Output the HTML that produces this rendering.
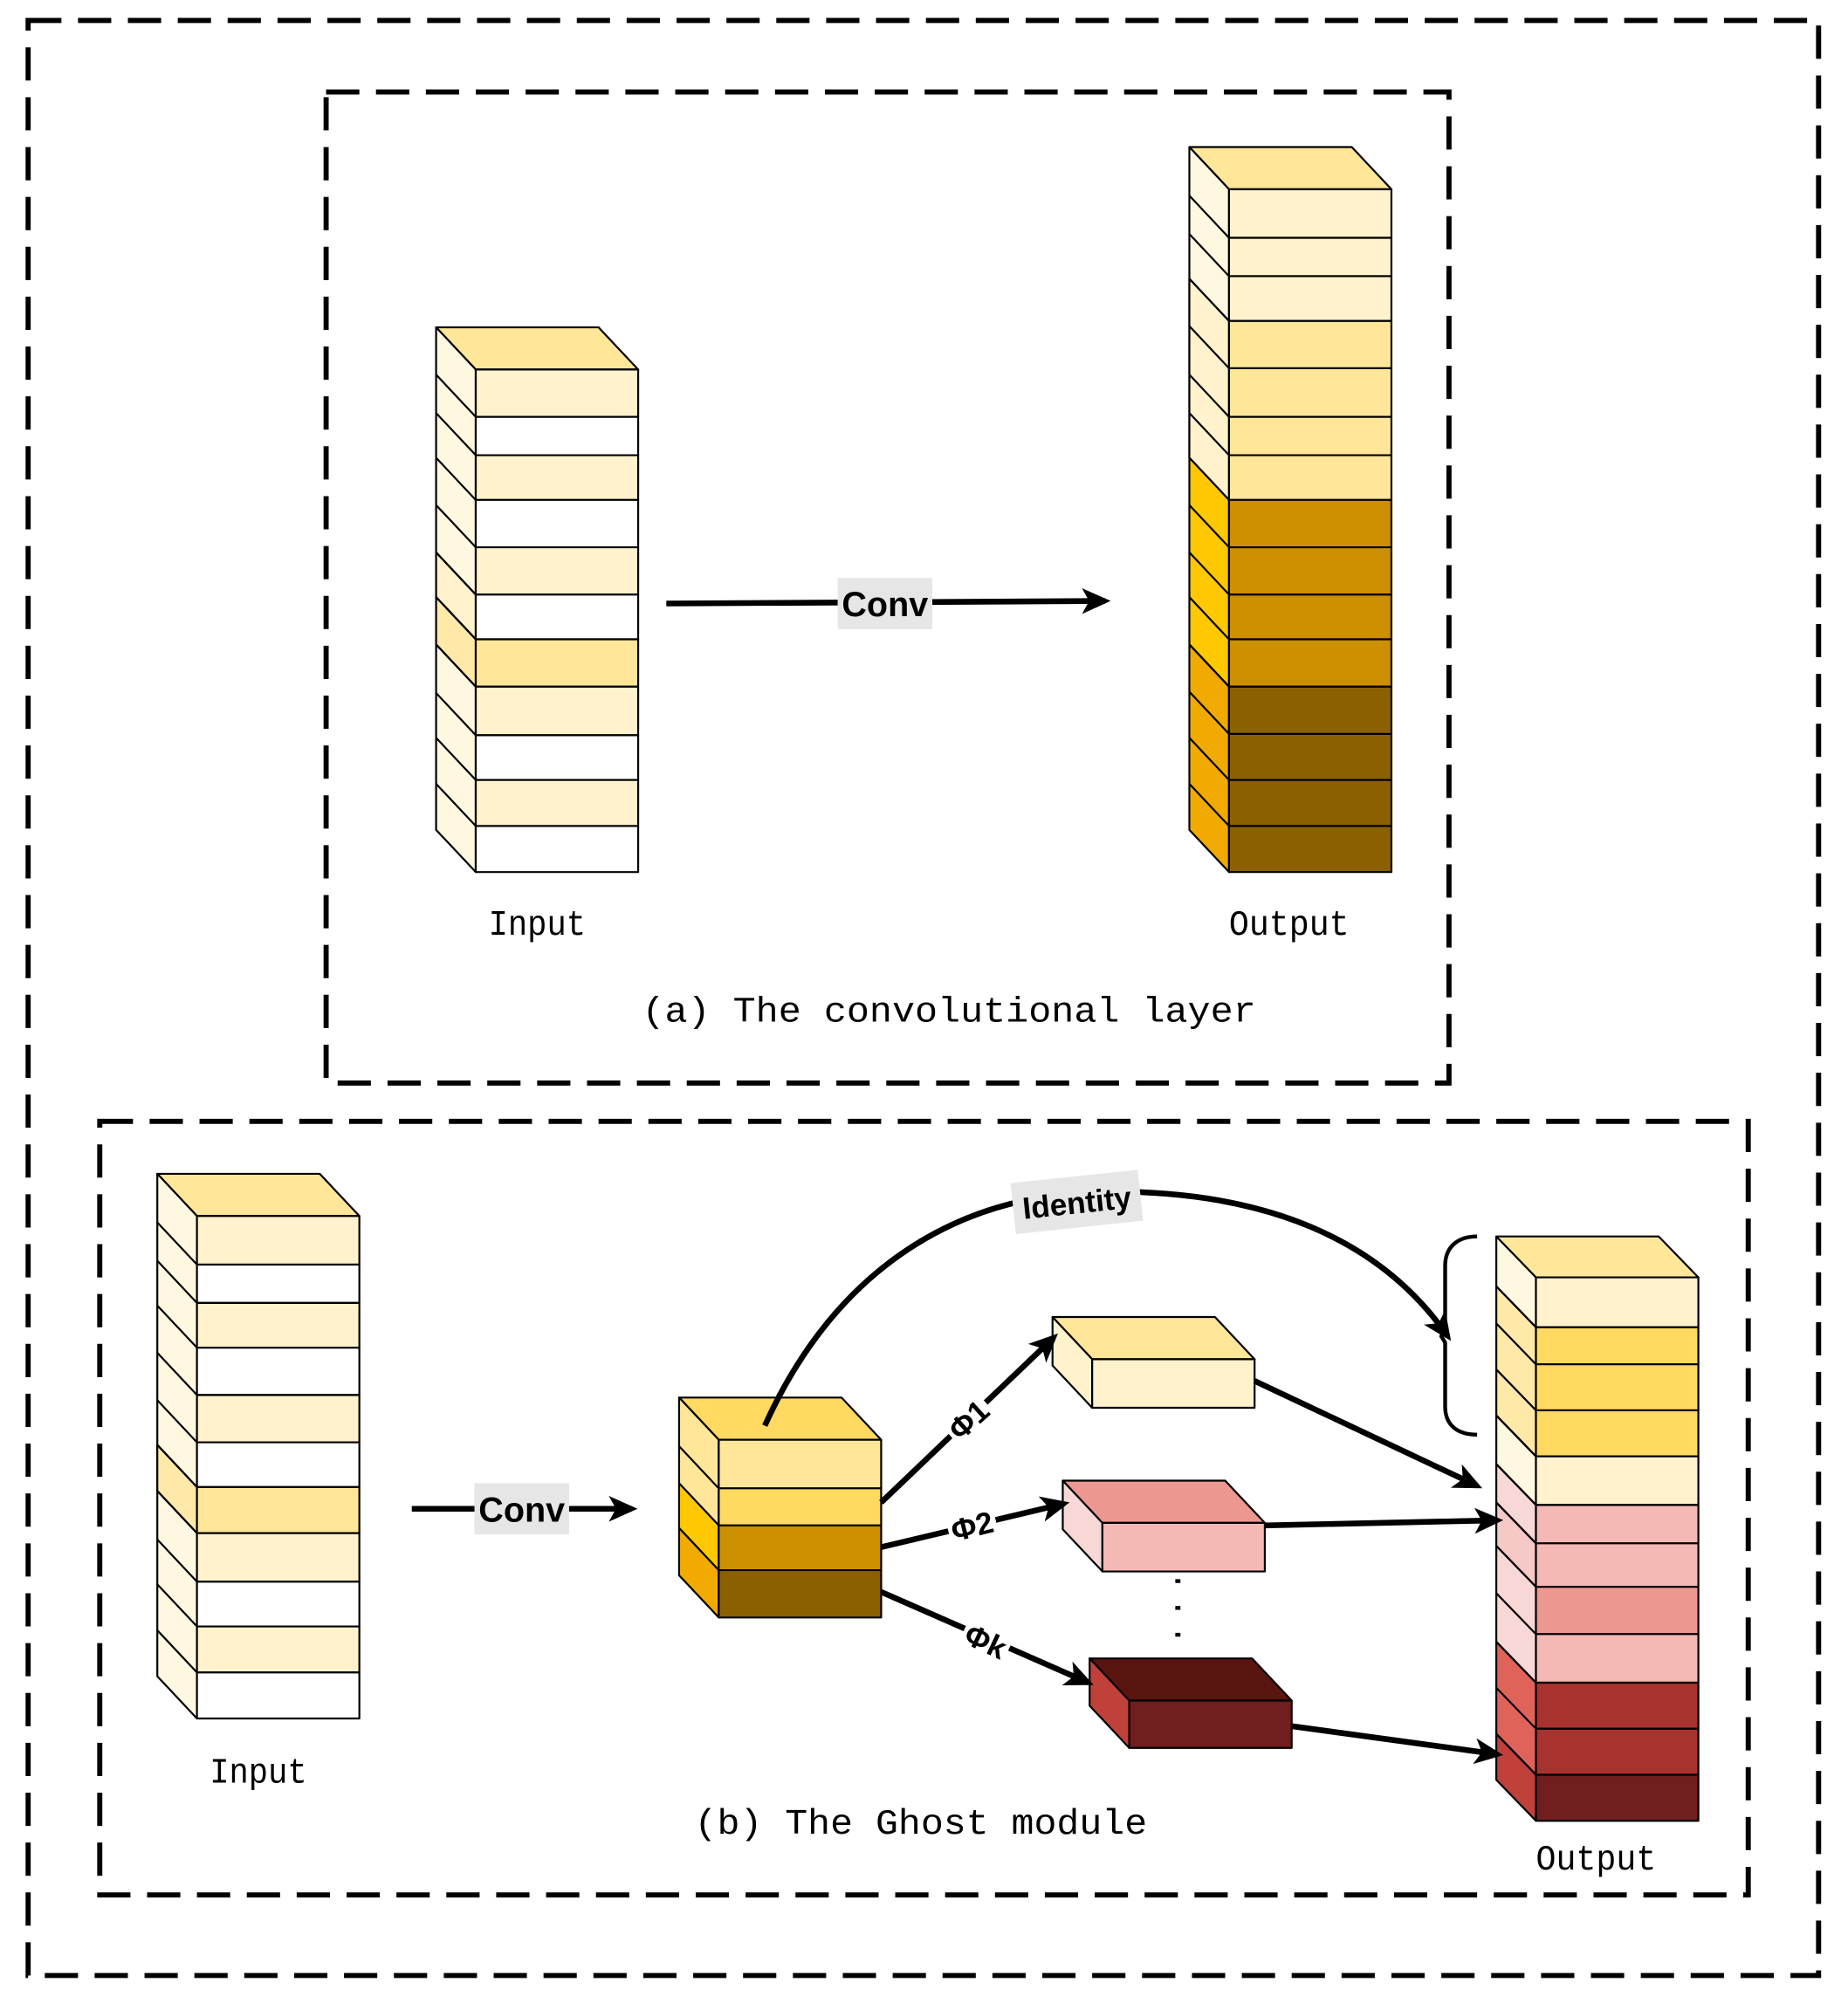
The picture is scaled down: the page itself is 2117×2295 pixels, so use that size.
<!DOCTYPE html>
<html><head><meta charset="utf-8"><style>html,body{margin:0;padding:0;background:#fff}svg{display:block}</style></head>
<body>
<svg width="2117" height="2295" viewBox="0 0 1445 1566.5" xmlns="http://www.w3.org/2000/svg" font-family="Liberation Mono, monospace">
<defs>
<marker id="ah" viewBox="0 0 10 10" refX="8" refY="5" markerWidth="5" markerHeight="5" orient="auto" markerUnits="strokeWidth"><path d="M0,0.5 L10,5 L0,9.5 L2.5,5 z" fill="#000"/></marker>
</defs>
<g fill="none" stroke="#000" stroke-width="4" stroke-dasharray="26 13">
<rect x="22" y="16" width="1400" height="1529"/>
<rect x="255" y="72" width="878" height="775"/>
<rect x="78" y="877" width="1289" height="605"/>
</g>

<g stroke="#000" stroke-width="1.5" stroke-linejoin="round">
<polygon points="341,256 468,256 499,289 372,289" fill="#FFE699"/>
<polygon points="341,256 372,289 372,682 341,649" fill="#FFF8E1"/>
<polygon points="341,432 372,465 372,500 341,467" fill="#FFF2CC"/>
<polygon points="341,467 372,500 372,537 341,504" fill="#FFE9A8"/>
<rect x="372" y="289" width="127" height="37" fill="#FFF2CC"/>
<rect x="372" y="326" width="127" height="30" fill="#fff"/>
<rect x="372" y="356" width="127" height="35" fill="#FFF2CC"/>
<rect x="372" y="391" width="127" height="37" fill="#fff"/>
<rect x="372" y="428" width="127" height="37" fill="#FFF2CC"/>
<rect x="372" y="465" width="127" height="35" fill="#fff"/>
<rect x="372" y="500" width="127" height="37" fill="#FFE699"/>
<rect x="372" y="537" width="127" height="38" fill="#FFF2CC"/>
<rect x="372" y="575" width="127" height="35" fill="#fff"/>
<rect x="372" y="610" width="127" height="36" fill="#FFF2CC"/>
<rect x="372" y="646" width="127" height="36" fill="#fff"/>
<path d="M341,293 L372,326 M341,323 L372,356 M341,358 L372,391 M341,395 L372,428 M341,432 L372,465 M341,467 L372,500 M341,504 L372,537 M341,542 L372,575 M341,577 L372,610 M341,613 L372,646"/>

<polygon points="930,115 1057,115 1088,148 961,148" fill="#FFE699"/>
<polygon points="930,115 961,148 961,391 930,358" fill="#FFF8E1"/>
<polygon points="930,218 961,251 961,391 930,358" fill="#FFF2CC"/>
<polygon points="930,358 961,391 961,537 930,504" fill="#FFC800"/>
<polygon points="930,504 961,537 961,682 930,649" fill="#F0AA00"/>
<rect x="961" y="148" width="127" height="38" fill="#FFF2CC"/>
<rect x="961" y="186" width="127" height="30" fill="#FFF2CC"/>
<rect x="961" y="216" width="127" height="35" fill="#FFF2CC"/>
<rect x="961" y="251" width="127" height="37" fill="#FFE699"/>
<rect x="961" y="288" width="127" height="38" fill="#FFE699"/>
<rect x="961" y="326" width="127" height="30" fill="#FFE699"/>
<rect x="961" y="356" width="127" height="35" fill="#FFE699"/>
<rect x="961" y="391" width="127" height="37" fill="#CC8F00"/>
<rect x="961" y="428" width="127" height="37" fill="#CC8F00"/>
<rect x="961" y="465" width="127" height="35" fill="#CC8F00"/>
<rect x="961" y="500" width="127" height="37" fill="#CC8F00"/>
<rect x="961" y="537" width="127" height="37" fill="#8B6000"/>
<rect x="961" y="574" width="127" height="36" fill="#8B6000"/>
<rect x="961" y="610" width="127" height="36" fill="#8B6000"/>
<rect x="961" y="646" width="127" height="36" fill="#8B6000"/>
<path d="M930,153 L961,186 M930,183 L961,216 M930,218 L961,251 M930,255 L961,288 M930,293 L961,326 M930,323 L961,356 M930,395 L961,428 M930,432 L961,465 M930,467 L961,500 M930,504 L961,537 M930,541 L961,574 M930,577 L961,610 M930,613 L961,646"/>

<polygon points="123,918 250,918 281,951 154,951" fill="#FFE699"/>
<polygon points="123,918 154,951 154,1344 123,1311" fill="#FFF8E1"/>
<polygon points="123,1130 154,1163 154,1199 123,1166" fill="#FFE9A8"/>
<rect x="154" y="951" width="127" height="38" fill="#FFF2CC"/>
<rect x="154" y="989" width="127" height="30" fill="#fff"/>
<rect x="154" y="1019" width="127" height="35" fill="#FFF2CC"/>
<rect x="154" y="1054" width="127" height="37" fill="#fff"/>
<rect x="154" y="1091" width="127" height="37" fill="#FFF2CC"/>
<rect x="154" y="1128" width="127" height="35" fill="#fff"/>
<rect x="154" y="1163" width="127" height="36" fill="#FFE699"/>
<rect x="154" y="1199" width="127" height="38" fill="#FFF2CC"/>
<rect x="154" y="1237" width="127" height="35" fill="#fff"/>
<rect x="154" y="1272" width="127" height="36" fill="#FFF2CC"/>
<rect x="154" y="1308" width="127" height="36" fill="#fff"/>
<path d="M123,956 L154,989 M123,986 L154,1019 M123,1021 L154,1054 M123,1058 L154,1091 M123,1095 L154,1128 M123,1130 L154,1163 M123,1166 L154,1199 M123,1204 L154,1237 M123,1239 L154,1272 M123,1275 L154,1308"/>

<polygon points="531,1093 658,1093 689,1126 562,1126" fill="#FFD960"/>
<polygon points="531,1093 562,1126 562,1193 531,1160" fill="#FFE699"/>
<polygon points="531,1160 562,1193 562,1228 531,1195" fill="#FFC800"/>
<polygon points="531,1195 562,1228 562,1265 531,1232" fill="#F0AA00"/>
<rect x="562" y="1126" width="127" height="38" fill="#FFE699"/>
<rect x="562" y="1164" width="127" height="29" fill="#FFD960"/>
<rect x="562" y="1193" width="127" height="35" fill="#CC8F00"/>
<rect x="562" y="1228" width="127" height="37" fill="#8B6000"/>
<path d="M531,1131 L562,1164"/>

<polygon points="823,1030 950,1030 981,1063 854,1063" fill="#FFE699"/>
<polygon points="823,1030 854,1063 854,1101 823,1068" fill="#FFF2CC"/>
<rect x="854" y="1063" width="127" height="38" fill="#FFF2CC"/>
<polygon points="831,1158 958,1158 989,1191 862,1191" fill="#EC9790"/>
<polygon points="831,1158 862,1191 862,1229 831,1196" fill="#F8D8D6"/>
<rect x="862" y="1191" width="127" height="38" fill="#F4B9B5"/>
<polygon points="852,1297 979,1297 1010,1330 883,1330" fill="#5A1510"/>
<polygon points="852,1297 883,1330 883,1367 852,1334" fill="#C0403A"/>
<rect x="883" y="1330" width="127" height="37" fill="#701E1E"/>

<polygon points="1170,967 1297,967 1328,999 1201,999" fill="#FFE699"/>
<polygon points="1170,967 1201,999 1201,1038 1170,1006" fill="#FFF8E1"/>
<polygon points="1170,1006 1201,1038 1201,1139 1170,1107" fill="#FFE9A8"/>
<polygon points="1170,1107 1201,1139 1201,1177 1170,1145" fill="#FFF8E1"/>
<polygon points="1170,1145 1201,1177 1201,1316 1170,1284" fill="#F8D8D6"/>
<polygon points="1170,1175 1201,1207 1201,1241 1170,1209" fill="#F6C8C6"/>
<polygon points="1170,1284 1201,1316 1201,1388 1170,1356" fill="#E0635A"/>
<polygon points="1170,1356 1201,1388 1201,1424 1170,1392" fill="#C0403A"/>
<rect x="1201" y="999" width="127" height="39" fill="#FFF2CC"/>
<rect x="1201" y="1038" width="127" height="29" fill="#FFD960"/>
<rect x="1201" y="1067" width="127" height="36" fill="#FFD960"/>
<rect x="1201" y="1103" width="127" height="36" fill="#FFD960"/>
<rect x="1201" y="1139" width="127" height="38" fill="#FFF2CC"/>
<rect x="1201" y="1177" width="127" height="30" fill="#F4B9B5"/>
<rect x="1201" y="1207" width="127" height="34" fill="#F4B9B5"/>
<rect x="1201" y="1241" width="127" height="37" fill="#EC9790"/>
<rect x="1201" y="1278" width="127" height="38" fill="#F4B9B5"/>
<rect x="1201" y="1316" width="127" height="36" fill="#A8322D"/>
<rect x="1201" y="1352" width="127" height="36" fill="#A8322D"/>
<rect x="1201" y="1388" width="127" height="36" fill="#701E1E"/>
<path d="M1170,1006 L1201,1038 M1170,1035 L1201,1067 M1170,1071 L1201,1103 M1170,1107 L1201,1139 M1170,1145 L1201,1177 M1170,1175 L1201,1207 M1170,1209 L1201,1241 M1170,1246 L1201,1278 M1170,1284 L1201,1316 M1170,1320 L1201,1352 M1170,1356 L1201,1388"/>
</g>

<g stroke="#000" stroke-width="4.5" fill="none" marker-end="url(#ah)">
<line x1="521" y1="472" x2="864" y2="470"/>
<line x1="322" y1="1180" x2="494" y2="1180"/>
<line x1="689" y1="1175" x2="824" y2="1046"/>
<line x1="689" y1="1210" x2="832" y2="1176"/>
<line x1="689" y1="1245" x2="851" y2="1316"/>
<line x1="981" y1="1080" x2="1155" y2="1162"/>
<line x1="989" y1="1193" x2="1171" y2="1189"/>
<line x1="1010" y1="1350" x2="1171" y2="1372"/>
<path d="M598,1115 C650,1000 740,935 860,932 C990,930 1080,970 1132,1045"/>
</g>
<path d="M1155,967 C1140,967 1130,975 1130,990 L1130,1040 L1127,1045 L1130,1050 L1130,1100 C1130,1115 1140,1122 1155,1122" fill="none" stroke="#000" stroke-width="3"/>
<line x1="921" y1="1235" x2="921" y2="1290" stroke="#000" stroke-width="4" stroke-dasharray="3 18"/>

<g font-family="Liberation Sans, sans-serif" font-weight="bold" font-size="27" text-anchor="middle">
<rect x="655" y="452" width="74" height="40" fill="#E6E6E6"/>
<text x="692" y="482">Conv</text>
<rect x="371" y="1160" width="74" height="40" fill="#E6E6E6"/>
<text x="408" y="1190">Conv</text>
<g transform="rotate(-6 842 940)"><rect x="792" y="920" width="100" height="40" fill="#E6E6E6"/><text x="842" y="949" font-size="24">Identity</text></g>
<g transform="rotate(-42 757 1110)"><rect x="738" y="1096" width="38" height="28" fill="#fff"/><text x="757" y="1119" font-size="24">Φ1</text></g>
<g transform="rotate(-14 760 1193)"><rect x="741" y="1179" width="38" height="28" fill="#fff"/><text x="760" y="1202" font-size="24">Φ2</text></g>
<g transform="rotate(25 771 1283)"><rect x="752" y="1269" width="38" height="28" fill="#fff"/><text x="771" y="1292" font-size="24">Φk</text></g>
</g>
<g font-size="28" fill="#000" text-anchor="middle">
<text x="420" y="731" textLength="76" lengthAdjust="spacingAndGlyphs">Input</text>
<text x="1008" y="731" textLength="94" lengthAdjust="spacingAndGlyphs">Output</text>
<text x="742" y="799" textLength="480" lengthAdjust="spacingAndGlyphs">(a) The convolutional layer</text>
<text x="202" y="1394" textLength="76" lengthAdjust="spacingAndGlyphs">Input</text>
<text x="720" y="1434" textLength="354" lengthAdjust="spacingAndGlyphs">(b) The Ghost module</text>
<text x="1248" y="1462" textLength="94" lengthAdjust="spacingAndGlyphs">Output</text>
</g>
</svg>
</body></html>
